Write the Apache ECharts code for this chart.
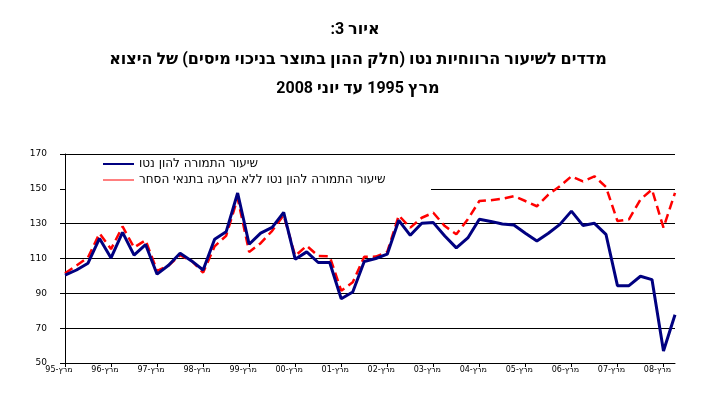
<!DOCTYPE html>
<html>
<head>
<meta charset="utf-8">
<script src="https://cdn.jsdelivr.net/npm/echarts@6/dist/echarts.min.js"></script>
<style>
  html, body { margin: 0; padding: 0; background: #fff; }
  #main { width: 710px; height: 399px; direction: rtl; }
</style>
</head>
<body>
<div id="main"></div>
<script>
// quarterly, Mar 1995 - Jun 2008
const quarterMonths = ['מרץ', 'יוני', 'ספט', 'דצמ'];
const years = ['95', '96', '97', '98', '99', '00', '01', '02', '03', '04', '05', '06', '07', '08'];

const categories = [];
years.forEach((y, yi) => {
    quarterMonths.forEach((m, qi) => {
        if (yi === years.length - 1 && qi > 1) return;
        categories.push(m + '-' + y);
    });
});

const seriesNames = [
    'שיעור התמורה להון נטו',
    'שיעור התמורה להון נטו ללא הרעה בתנאי הסחר'
];

const netReturn = [
    100.4, 103.4, 107.3, 121.5, 110.3, 125.0, 111.9, 118.0,
    101.0, 106.1, 113.0, 108.6, 103.4, 121.1, 125.3, 147.6,
    118.2, 124.6, 127.9, 136.5, 109.6, 113.8, 107.7, 107.7,
    86.9, 90.8, 108.3, 110.0, 112.5, 131.9, 123.3, 130.2,
    130.6, 122.9, 116.1, 121.8, 132.5, 131.3, 129.8, 129.2,
    124.5, 120.0, 124.5, 129.6, 137.2, 129.0, 130.2, 123.9,
    94.4, 94.4, 99.8, 97.9, 56.9, 77.7
];

const netReturnNoTerms = [
    101.5, 106.0, 110.6, 124.4, 115.4, 128.4, 116.3, 120.5,
    102.9, 106.0, 111.9, 108.6, 101.9, 117.0, 123.0, 144.6,
    113.8, 118.8, 125.9, 134.9, 111.5, 117.3, 111.5, 111.2,
    91.5, 96.3, 111.0, 111.1, 113.8, 134.7, 127.7, 133.4,
    136.3, 128.6, 123.9, 132.5, 143.0, 143.5, 144.3, 145.8,
    143.0, 140.0, 146.7, 151.5, 157.2, 154.3, 157.2, 151.1,
    131.5, 132.5, 143.9, 149.6, 127.7, 147.7
];

const yTicks = { min: 50, max: 170, interval: 20 };

const titleLines = [
    { text: 'איור 3:', x: 355, y: 22 },
    { text: 'מדדים לשיעור הרווחיות נטו (חלק ההון בתוצר בניכוי מיסים) של היצוא', x: 358, y: 52 },
    { text: 'מרץ 1995 עד יוני 2008', x: 358, y: 81 }
];

const chart = echarts.init(document.getElementById('main'), null, { renderer: 'canvas' });

// digits from a narrow latin face, hebrew falls back to DejaVu
const titleFont = {
    fontFamily: '"Liberation Sans Narrow", Roboto, "DejaVu Sans"',
    fontWeight: 'bold',
    fontSize: 16,
    color: '#000'
};

const option = {
    animation: false,
    backgroundColor: '#fff',
    title: titleLines.map(t => ({
        text: t.text,
        left: t.x,
        top: t.y,
        textAlign: 'center',
        padding: 0,
        textStyle: titleFont
    })),
    graphic: [{
        type: 'rect',
        shape: { x: 66, y: 156, width: 365, height: 36 },
        style: { fill: '#fff' },
        z: 1
    }],
    legend: {
        orient: 'vertical',
        left: 102,
        top: 158,
        itemWidth: 31,
        itemHeight: 14,
        itemGap: 4,
        padding: 0,
        itemStyle: { opacity: 0 },
        textStyle: {
            fontFamily: 'DejaVu Sans',
            fontSize: 12,
            color: '#000'
        },
        data: [
            { name: seriesNames[0] },
            { name: seriesNames[1], lineStyle: { type: 'solid', width: 1 } }
        ],
        z: 5
    },
    grid: {
        left: 65,
        right: 35,
        top: 154,
        bottom: 36
    },
    xAxis: {
        type: 'category',
        data: categories,
        boundaryGap: false,
        axisLine: { lineStyle: { color: '#000', width: 1 } },
        axisTick: {
            interval: 3,
            length: 4,
            lineStyle: { color: '#000' }
        },
        axisLabel: {
            interval: 3,
            margin: 3,
            color: '#000',
            fontFamily: 'DejaVu Sans',
            fontSize: 8,
            padding: [0, 12, 0, 0]
        },
        splitLine: { show: false }
    },
    yAxis: {
        type: 'value',
        min: yTicks.min,
        max: yTicks.max,
        interval: yTicks.interval,
        axisLine: { show: true, lineStyle: { color: '#000', width: 1 } },
        axisTick: { show: true, length: 5, lineStyle: { color: '#000' } },
        axisLabel: {
            margin: 18,
            color: '#000',
            fontFamily: 'DejaVu Sans',
            fontSize: 9
        },
        splitLine: { show: true, lineStyle: { color: '#000', width: 1 } }
    },
    series: [
        {
            name: seriesNames[0],
            type: 'line',
            data: netReturn,
            symbol: 'none',
            lineStyle: { color: '#000080', width: 3 },
            itemStyle: { color: '#000080' },
            z: 3
        },
        {
            name: seriesNames[1],
            type: 'line',
            data: netReturnNoTerms,
            symbol: 'none',
            lineStyle: { color: '#ff0000', width: 2.5, type: [9, 5] },
            itemStyle: { color: '#ff0000' },
            z: 2
        }
    ]
};

chart.setOption(option);
</script>
</body>
</html>
